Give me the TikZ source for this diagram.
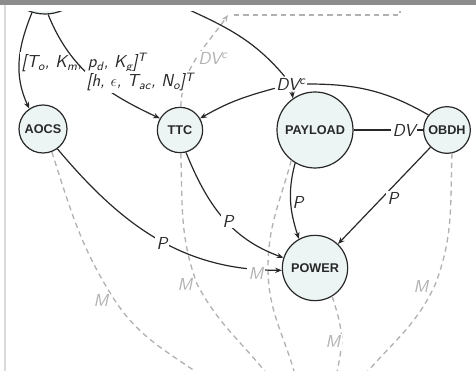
\documentclass[tikz,border=0pt]{standalone}
\usepackage{fontspec}
\newfontfamily\unitfont{Liberation Sans}
\usetikzlibrary{arrows.meta}
\definecolor{SatInk}{RGB}{40,40,40}
\definecolor{SatGray}{RGB}{178,178,178}
\definecolor{SatFill}{RGB}{236,245,244}
\definecolor{SatBar}{RGB}{140,140,140}
\definecolor{SatFrame}{RGB}{218,218,218}
\tikzset{
  sat/unit/.style={
    circle,
    draw=SatInk,
    line width=0.9pt,
    fill=SatFill,
    inner sep=0pt,
    text=SatInk,
    font=\unitfont\bfseries\fontsize{9.5}{11}\selectfont
  },
  sat/label/.style={
    fill=white,
    inner sep=1pt,
    text=SatInk,
    font=\sffamily\slshape\fontsize{13}{15}\selectfont
  },
  sat/glabel/.style={sat/label, text=SatGray},
  sat/arrow/.style={-{Stealth[length=5pt,width=4pt]}, line width=0.9pt, draw=SatInk},
  sat/line/.style={line width=0.9pt, draw=SatInk},
  sat/mass/.style={draw=SatGray, line width=1pt, dash pattern=on 4pt off 3pt},
  sat/massarrow/.style={sat/mass, -{Stealth[length=5pt,width=4pt]}}
}

\begin{document}
\begin{tikzpicture}[x=0.75pt,y=0.75pt]
  \useasboundingbox (0,0) rectangle (476,371);
  \begin{scope}
  \clip (6,0) rectangle (476,360);

  % subsystems
  \node[sat/unit,minimum size=66pt] (src) at (45,401) {};
  \node[sat/unit,minimum size=36pt] (aocs) at (43,242) {AOCS};
  \node[sat/unit,minimum size=34pt] (ttc) at (180,241) {TTC};
  \node[sat/unit,minimum size=57pt] (payload) at (315,241) {PAYLOAD};
  \node[sat/unit,minimum size=35pt] (obdh) at (447,241) {OBDH};
  \node[sat/unit,minimum size=49pt] (power) at (315,103) {POWER};

  % off-picture ends
  \coordinate (dvsrc) at (170,370);
  \coordinate (dvtop) at (228,356);
  \coordinate (hl) at (234,356);
  \coordinate (hr) at (400,356);
  \coordinate (hrt) at (400,362);
  \coordinate (wa) at (112,75);  \coordinate (ea) at (205,-7);
  \coordinate (wb) at (197,87);  \coordinate (eb) at (272,-9);
  \coordinate (wc) at (268,103); \coordinate (ec) at (296,-7);
  \coordinate (wd) at (342,31);  \coordinate (ed) at (336,-7);
  \coordinate (we) at (435,86);  \coordinate (ee) at (362,-7);

  % mass links
  \draw[sat/mass] (aocs.-69) to[out=-72,in=122] (wa) to[out=-58,in=145] (ea);
  \draw[sat/mass] (ttc.-88) to[out=-88,in=110] (wb) to[out=-62,in=128] (eb);
  \draw[sat/mass] (payload.-128) to[out=-105,in=90] (wc) to[out=-90,in=105] (ec);
  \draw[sat/mass] (power.-59) to[out=-72,in=95] (wd) to[out=-95,in=80] (ed);
  \draw[sat/mass] (obdh.-78) to[out=-92,in=69] (we) to[out=-115,in=50] (ee);
  \draw[sat/massarrow] (ttc) to[out=88,in=-125] (dvtop);
  \draw[sat/mass] (hl) -- (hr) -- (hrt);
  \node[sat/glabel] (dvcg) at (213,313) {DV\textsuperscript{c}};

  % commands
  \draw[sat/arrow] (src.-107) to[out=-112,in=115] (aocs.124);
  \node[sat/label,anchor=west] (cmda) at (20,308)
    {[T\textsubscript{o}, K\textsubscript{m}, p\textsubscript{d}, K\textsubscript{g}]\textsuperscript{T}};
  \draw[sat/arrow] (src.-86) to[out=-68,in=155] (ttc.150);
  \node[sat/label,anchor=west] (cmdb) at (85,289)
    {[h, $\epsilon$, T\textsubscript{ac}, N\textsubscript{o}]\textsuperscript{T}};

  % data volume
  \node[sat/label] (dvc) at (291,287) {DV\textsuperscript{c}};
  \draw[sat/line] (dvsrc) to[out=-25,in=130] (dvc);
  \draw[sat/arrow] (dvc) to[out=195,in=30] (ttc);
  \draw[sat/arrow] (dvc) -- (payload.125);
  \draw[sat/line] (dvc) to[out=0,in=150] (obdh.141);
  \draw[sat/line] (payload) -- (obdh);
  \node[sat/label] (dv) at (404,241) {DV};

  % power
  \draw[sat/arrow] (payload.-121) to[out=-105,in=108] (power.119);
  \node[sat/label,fill=none] (pp) at (298,169) {P};
  \draw[sat/arrow] (obdh) -- (power);
  \node[sat/label] (po) at (393,173) {P};
  \draw[sat/arrow] (ttc.-75) to[out=-68,in=160] (power.162);
  \node[sat/label] (pt) at (228,150) {P};
  \draw[sat/arrow] (aocs.-54) to[out=-50,in=180] (power.184);
  \node[sat/label] (pa) at (162,128) {P};

  % mass labels
  \node[sat/glabel] (ma) at (101,71) {M};
  \node[sat/glabel] (mb) at (185,87) {M};
  \node[sat/glabel] (mc) at (256,98) {M};
  \node[sat/glabel] (md) at (333,30) {M};
  \node[sat/glabel] (me) at (421,85) {M};
  \end{scope}

  % frame
  \fill[white] (6,360) rectangle (476,367);
  \fill[SatBar] (0,366) rectangle (476,371);
  \draw[SatFrame,line width=0.8pt] (5,0) -- (5,366);
\end{tikzpicture}
\end{document}
